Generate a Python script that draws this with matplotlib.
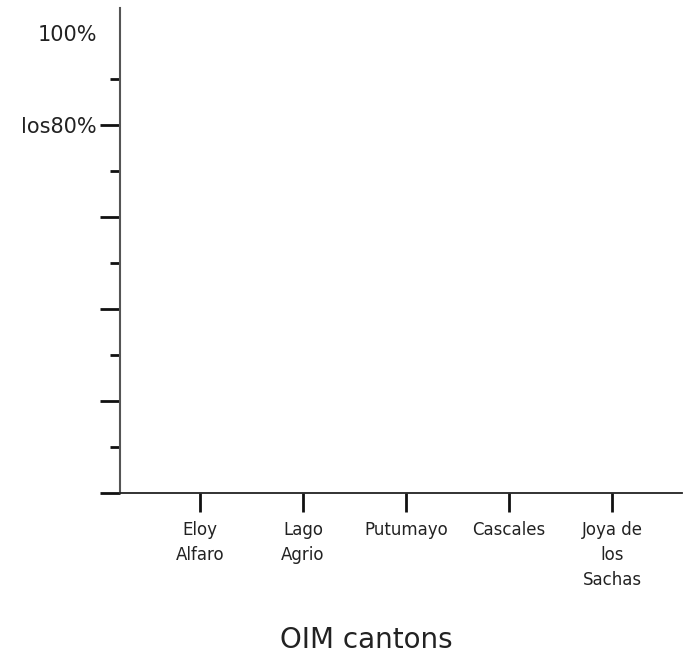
import numpy as np
import matplotlib.pyplot as plt

# categories on the x axis (no data drawn in the chart)
cantons = ['Eloy\nAlfaro', 'Lago\nAgrio', 'Putumayo', 'Cascales', 'Joya de\nlos\nSachas']
y_ticks = [0, 20, 40, 60, 80, 100]
y_labels = ['', '', '', '', 'los80%', '100%']
y_minor = [10, 30, 50, 70, 90]

fig = plt.figure(figsize=(6.83, 6.63), dpi=100)
ax = fig.add_axes([120/683, 170/663, 562/683, 485/663])

x = np.arange(len(cantons))
ax.set_xticks(x)
ax.set_xticklabels(cantons, fontsize=12, linespacing=1.5, color='#222222')
ax.set_xlim(-0.777, 4.68)

ax.set_yticks(y_ticks)
ax.set_yticklabels(y_labels, fontsize=15, color='#222222')
ax.set_yticks(y_minor, minor=True)
ax.set_ylim(0, 105.4)

for s in ['top', 'right']:
    ax.spines[s].set_visible(False)
ax.spines['left'].set_color('#555555')
ax.spines['left'].set_linewidth(1.5)
ax.spines['bottom'].set_color('#222222')
ax.spines['bottom'].set_linewidth(1.3)

ax.tick_params(axis='x', length=14, width=2, pad=6, color='#111111')
ax.tick_params(axis='y', which='major', length=14.5, width=2, pad=2, color='#111111')
ax.tick_params(axis='y', which='minor', length=7, width=2, color='#111111')
# no tick mark at the 100% label
ax.yaxis.get_major_ticks()[-1].tick1line.set_visible(False)

ax.set_xlabel('OIM cantons', fontsize=20, color='#222222', va='center')
ax.xaxis.set_label_coords(0.438, -0.303)

fig.savefig('out.png', dpi=100)
